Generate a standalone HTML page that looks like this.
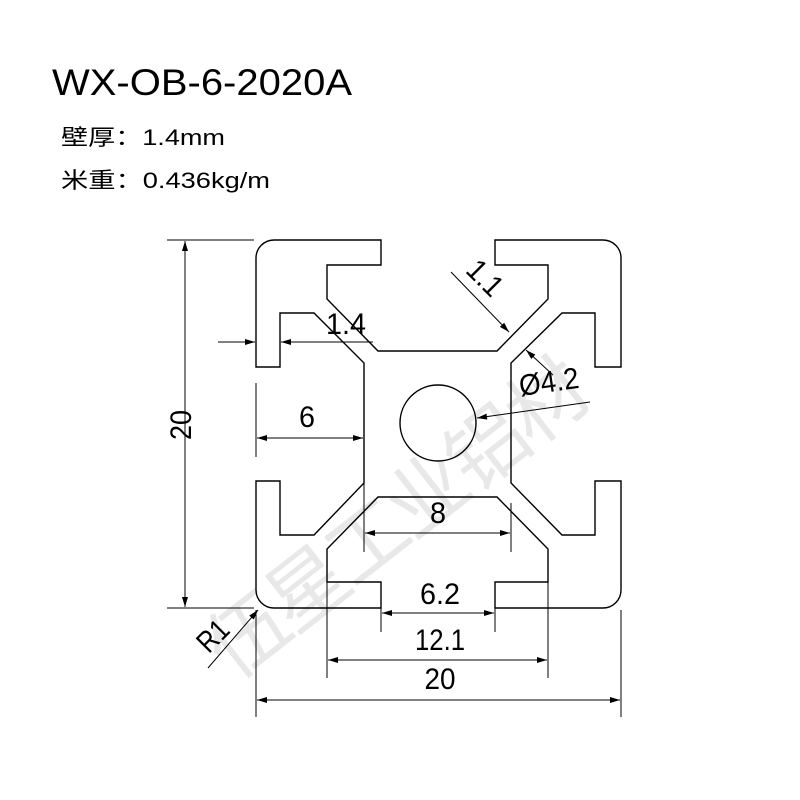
<!DOCTYPE html>
<html><head><meta charset="utf-8"><style>
html,body{margin:0;padding:0;background:#fff;}
svg{display:block;}
</style></head><body>
<svg width="800" height="800" viewBox="0 0 800 800" xmlns="http://www.w3.org/2000/svg" font-family="'Liberation Sans','Noto Sans CJK SC',sans-serif">
<defs>
<marker id="a" viewBox="0 0 10 6" refX="10" refY="3" markerWidth="16" markerHeight="6" markerUnits="userSpaceOnUse" orient="auto-start-reverse"><path d="M0,0 L10,3 L0,6 Z" fill="#000"/></marker>
</defs>
<text x="0" y="0" font-size="80" fill="#e8e8e8" text-anchor="middle" transform="translate(415,540) rotate(-38)" font-family="'Noto Sans CJK SC',sans-serif" textLength="460" lengthAdjust="spacing">伍星工业铝材</text>
<text x="52" y="95" font-size="37" textLength="300" lengthAdjust="spacingAndGlyphs">WX-OB-6-2020A</text>
<text x="61" y="145" font-size="22" textLength="164" lengthAdjust="spacingAndGlyphs">壁厚：1.4mm</text>
<text x="61" y="188" font-size="22" textLength="209" lengthAdjust="spacingAndGlyphs">米重：0.436kg/m</text>
<g fill="none" stroke="#000" stroke-width="1.4">
<path d="M274,240 L381,240 L381,265 L327,265 L327,299 L378,351 L497,351 L548,299 L548,265 L495,265 L495,240 L603,240 A18,18 0 0 1 621,258 L621,367 L595,367 L595,313 L562,313 L511,363 L511,483 L562,535 L595,535 L595,481 L621,481 L621,590 A18,18 0 0 1 603,608 L495,608 L495,582 L548,582 L548,549 L497,497 L378,497 L327,549 L327,582 L381,582 L381,608 L274,608 A18,18 0 0 1 256,590 L256,481 L280,481 L280,535 L314,535 L364,483 L364,363 L314,313 L280,313 L280,367 L256,367 L256,258 A18,18 0 0 1 274,240 Z"/>
<circle cx="438" cy="423" r="38"/>
</g>
<g fill="none" stroke="#000" stroke-width="1">
<line x1="167" y1="240" x2="254" y2="240"/><line x1="167" y1="608" x2="254" y2="608"/>
<line x1="185" y1="241" x2="185" y2="607" marker-start="url(#a)" marker-end="url(#a)"/>
<line x1="218" y1="342" x2="255" y2="342" marker-end="url(#a)"/>
<line x1="373" y1="342" x2="281" y2="342" marker-end="url(#a)"/>
<line x1="451" y1="272" x2="509" y2="332" marker-end="url(#a)"/>
<line x1="590" y1="402" x2="477" y2="418" marker-end="url(#a)"/>
<line x1="553" y1="375" x2="526" y2="350" marker-end="url(#a)"/>
<line x1="256" y1="383" x2="256" y2="457"/>
<line x1="257" y1="438" x2="363" y2="438" marker-start="url(#a)" marker-end="url(#a)"/>
<line x1="364" y1="483" x2="364" y2="552"/><line x1="511" y1="503" x2="511" y2="552"/>
<line x1="365" y1="533" x2="510" y2="533" marker-start="url(#a)" marker-end="url(#a)"/>
<line x1="381" y1="608" x2="381" y2="632"/><line x1="495" y1="608" x2="495" y2="632"/>
<line x1="382" y1="613" x2="494" y2="613" marker-start="url(#a)" marker-end="url(#a)"/>
<line x1="327" y1="582" x2="327" y2="678"/><line x1="548" y1="582" x2="548" y2="678"/>
<line x1="328" y1="660" x2="547" y2="660" marker-start="url(#a)" marker-end="url(#a)"/>
<line x1="256" y1="610" x2="256" y2="717"/><line x1="621" y1="610" x2="621" y2="717"/>
<line x1="257" y1="700" x2="620" y2="700" marker-start="url(#a)" marker-end="url(#a)"/>
<line x1="208" y1="668" x2="258" y2="610" marker-end="url(#a)"/>
</g>
<g font-size="30" fill="#000" text-anchor="middle" lengthAdjust="spacingAndGlyphs">
<text x="0" y="0" transform="translate(181,425) rotate(-90)" dy="10" textLength="30" lengthAdjust="spacingAndGlyphs">20</text>
<text x="346" y="334" textLength="40" lengthAdjust="spacingAndGlyphs">1.4</text>
<text x="0" y="10" transform="translate(485,278) rotate(45)" textLength="38" lengthAdjust="spacingAndGlyphs">1.1</text>
<text x="0" y="10" transform="translate(549,382) rotate(-8)" textLength="60" lengthAdjust="spacingAndGlyphs">Ø4.2</text>
<text x="307" y="427" textLength="16" lengthAdjust="spacingAndGlyphs">6</text>
<text x="438" y="523" textLength="16" lengthAdjust="spacingAndGlyphs">8</text>
<text x="440" y="604" textLength="40" lengthAdjust="spacingAndGlyphs">6.2</text>
<text x="440" y="650" textLength="50" lengthAdjust="spacingAndGlyphs">12.1</text>
<text x="440" y="689" textLength="31" lengthAdjust="spacingAndGlyphs">20</text>
<text x="0" y="10" transform="translate(213,636) rotate(-45)" textLength="32" lengthAdjust="spacingAndGlyphs">R1</text>
</g>
</svg>
</body></html>
